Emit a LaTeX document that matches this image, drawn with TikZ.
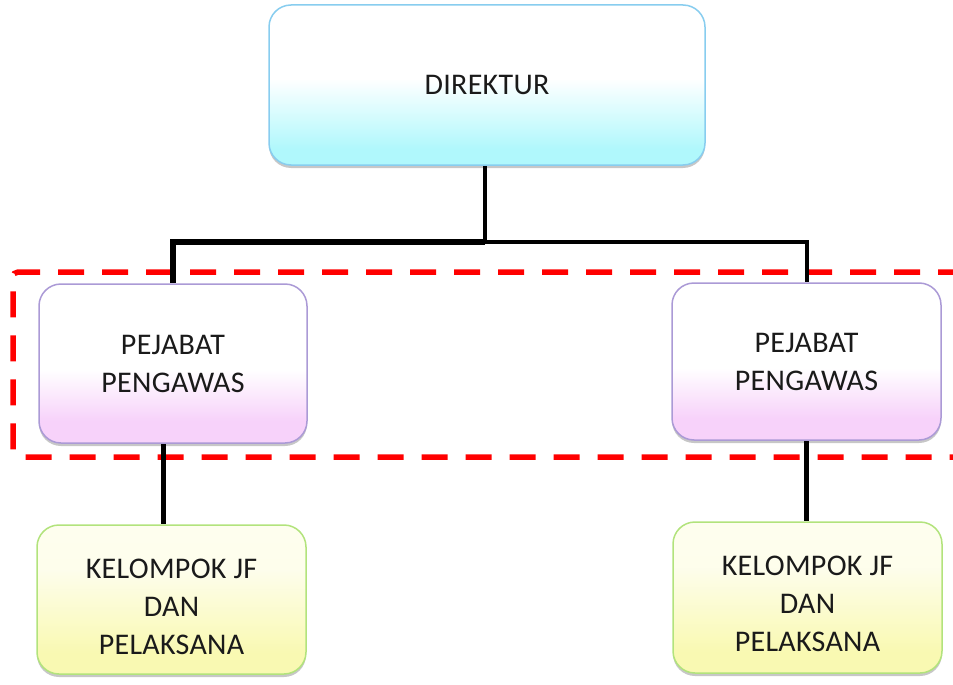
\documentclass[tikz,border=0pt]{standalone}
\usepackage{fontspec}
\setmainfont{Carlito}[LetterSpace=1]
\usetikzlibrary{shadows}

\definecolor{ink}{HTML}{1A1A1A}
\definecolor{dirline}{HTML}{88CDEF}
\definecolor{dirlo}{RGB}{176,248,252}
\definecolor{pwline}{HTML}{AB9AD6}
\definecolor{pwlo}{RGB}{247,210,250}
\definecolor{kline}{HTML}{B2E37C}
\definecolor{klo}{RGB}{249,249,178}
\definecolor{frame}{HTML}{FF0000}

% vertical fills: pale colour at the bottom fading to white in the upper half
\pgfdeclareverticalshading{dirfill}{100bp}{color(0bp)=(dirlo); color(30bp)=(dirlo); color(52bp)=(white); color(100bp)=(white)}
\pgfdeclareverticalshading{pwfill}{100bp}{color(0bp)=(pwlo); color(32bp)=(pwlo); color(48bp)=(white); color(100bp)=(white)}
\pgfdeclareverticalshading{kfill}{100bp}{color(0bp)=(klo); color(32bp)=(klo); color(60bp)=(klo!25!white); color(100bp)=(klo!15!white)}

\pgfdeclarelayer{back}
\pgfsetlayers{back,main}

\tikzset{
  x=1pt, y=-1pt,
  txt/.style={align=center, text=ink, font=\fontsize{30}{38}\selectfont},
  box/.style={txt, rounded corners=22pt, line width=1.5pt, shade,
    drop shadow={shadow xshift=0pt, shadow yshift=-3pt, opacity=0.22, fill=black}},
  dirbox/.style={box, draw=dirline, shading=dirfill},
  pwbox/.style={box, draw=pwline, shading=pwfill},
  kbox/.style={box, draw=kline, shading=kfill},
  conn/.style={draw=black},
  groupframe/.style={draw=frame, line width=5.5pt, dash pattern=on 26pt off 18pt,
    dash phase=33pt, rounded corners=5pt},
}

\begin{document}
\begin{tikzpicture}
\useasboundingbox (0,0) rectangle (953,685);

% boxes
\node[dirbox, minimum width=436pt, minimum height=160pt] (dir) at (487,85) {DIREKTUR};
\node[pwbox, minimum width=268pt, minimum height=159pt] (pwL) at (173,363.5) {PEJABAT\\PENGAWAS};
\node[pwbox, minimum width=269pt, minimum height=157pt] (pwR) at (806.5,361.5) {PEJABAT\\PENGAWAS};
\node[kbox, minimum width=269pt, minimum height=149pt,
  label={[name=kLt, txt, yshift=-7pt]center:{KELOMPOK JF\\DAN\\PELAKSANA}}] (kL) at (171.5,599.5) {};
\node[kbox, minimum width=269pt, minimum height=151pt,
  label={[name=kRt, txt, yshift=-6pt]center:{KELOMPOK JF\\DAN\\PELAKSANA}}] (kR) at (807.5,597.5) {};

\coordinate (hub) at (485,242);

\begin{pgfonlayer}{back}
  % dashed frame around the supervisor level, running off the right edge
  \begin{scope}
    \clip (0,0) rectangle (953,685);
    \draw[groupframe] (975,272) -- (13,272) -- (13,457) -- (975,457);
  \end{scope}
  % connectors
  \draw[conn, line width=4pt] (dir.south -| hub) -- (hub);
  \draw[conn, line width=6pt] (hub) -| (pwL.north);
  \draw[conn, line width=4pt] (hub) -| (pwR.north);
  \draw[conn, line width=5pt] ([xshift=-10pt]pwL.south) -- ([xshift=-10pt]pwL.south |- kL.north);
  \draw[conn, line width=5pt] (pwR.south) -- (pwR.south |- kR.north);
\end{pgfonlayer}
\end{tikzpicture}
\end{document}
